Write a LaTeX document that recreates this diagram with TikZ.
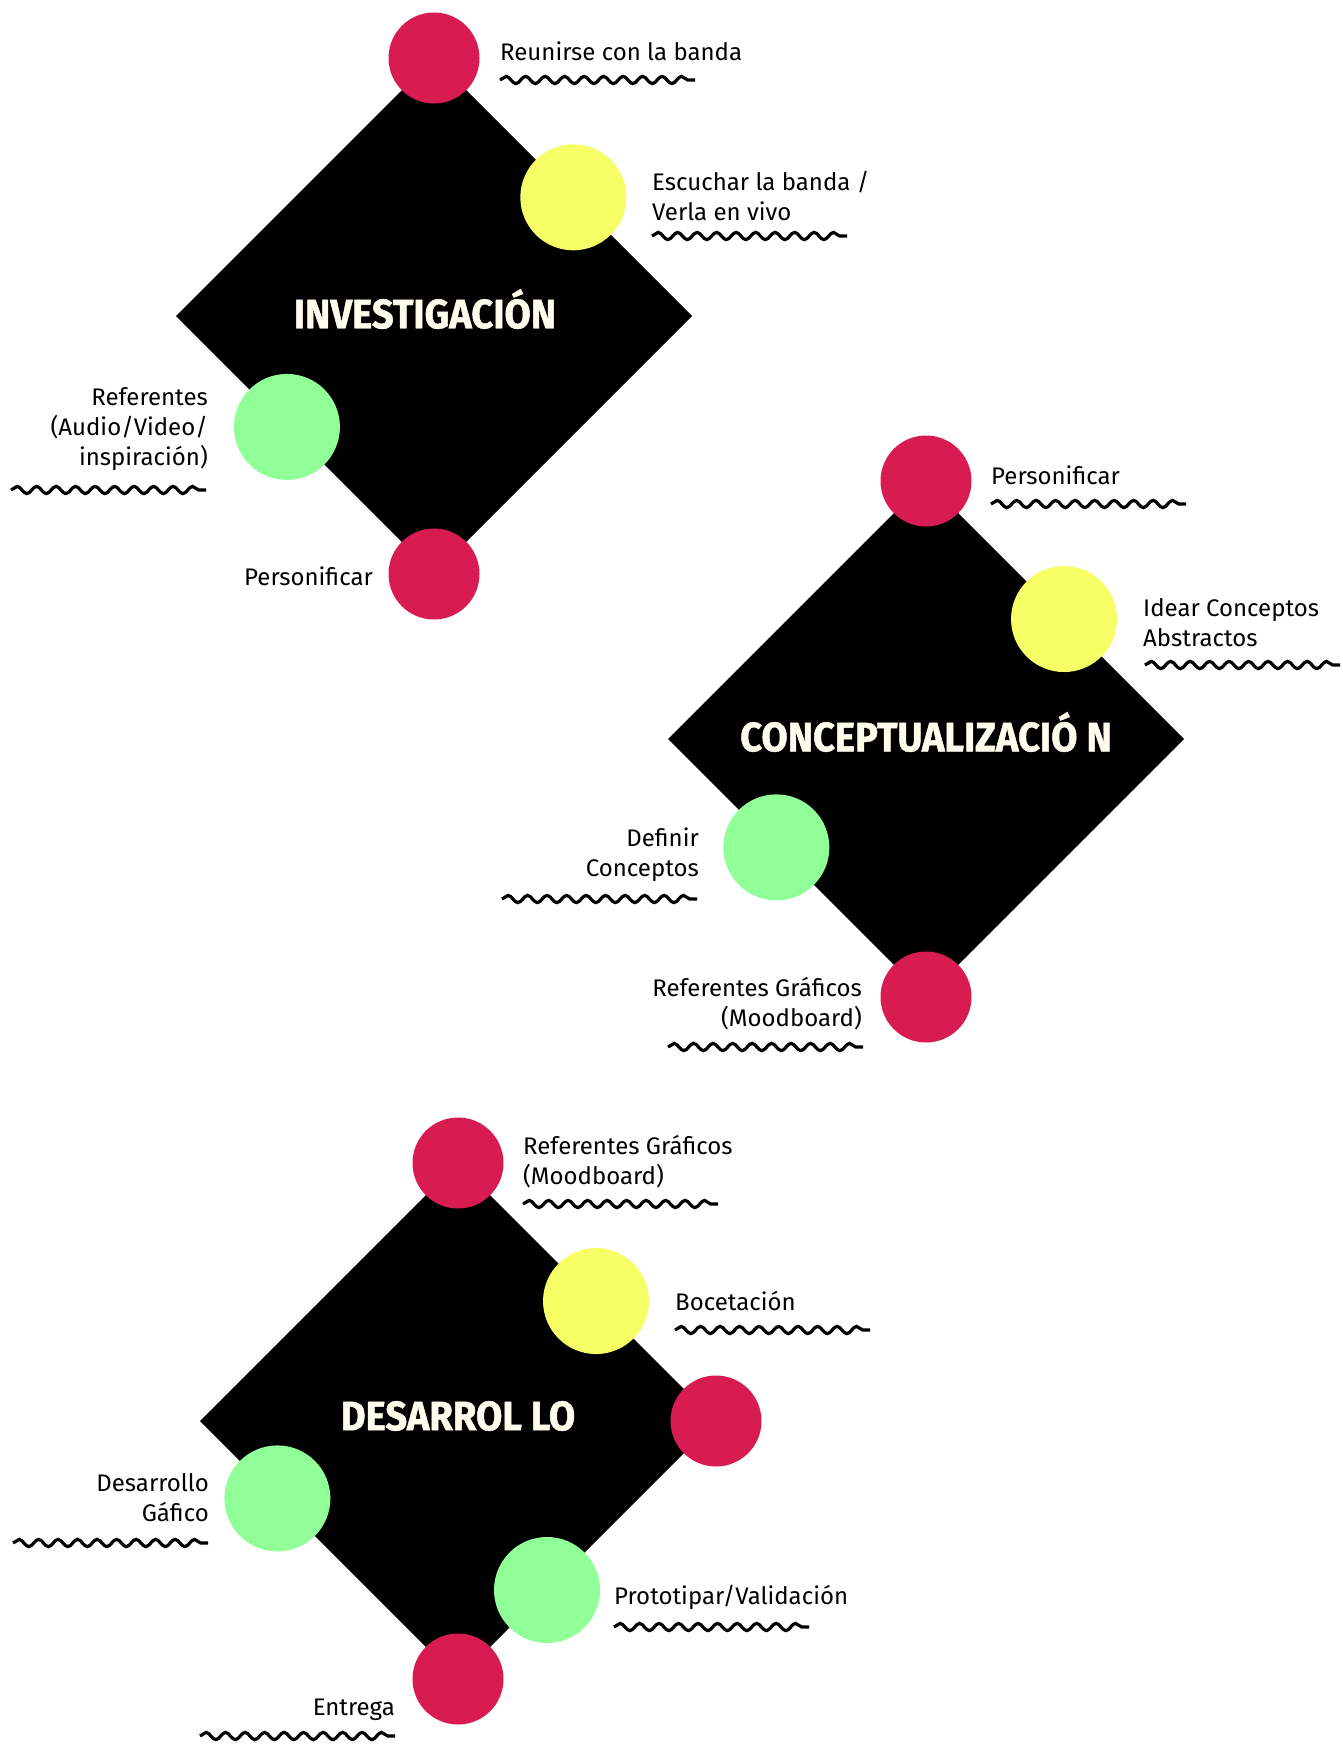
\documentclass[tikz,border=0pt]{standalone}
\usepackage{fontspec}
\setmainfont{Fira Sans}
\newfontfamily\titlefont[FakeStretch=0.93,FakeBold=1.2]{Fira Sans}
\usetikzlibrary{shapes.geometric,calc,decorations.pathmorphing}
\definecolor{rojo}{HTML}{D81B50}
\definecolor{amarillo}{HTML}{F6FF66}
\definecolor{verde}{HTML}{90FF98}
\definecolor{crema}{HTML}{FFFCEE}

\begin{document}
\begin{tikzpicture}[x=1pt,y=-1pt,
        fase/.style={diamond,fill=black,minimum width=516pt,minimum height=516pt,inner sep=0pt,outer sep=0pt},
        titulo/.style={text=crema,inner sep=0pt,font=\titlefont\bfseries\fontsize{41}{41}\selectfont},
        punto/.style={circle,inner sep=0pt,outer sep=0pt},
        puntorojo/.style={punto,fill=rojo,minimum size=91pt},
        puntoamarillo/.style={punto,fill=amarillo,minimum size=106pt},
        puntoverde/.style={punto,fill=verde,minimum size=106pt},
        etiqueta/.style={inner sep=0pt,font=\fontsize{24}{30}\selectfont},
        onda/.style={line width=3.2pt,decorate,decoration={snake,segment length=19.5pt,amplitude=3.6pt}}]
    \useasboundingbox (0,0) rectangle (1343,1745);

    \node[fase] (inv) at (434,316) {};
    \node[titulo] (invt) at (425,309) {INVESTIGACIÓN};
    \node[puntorojo] (inv1) at (inv.north) {};
    \node[puntoamarillo] (inv2) at ($(inv.north)!0.54!(inv.east)$) {};
    \node[puntoverde] (inv3) at ($(inv.west)!0.43!(inv.south)$) {};
    \node[puntorojo] (inv4) at (inv.south) {};
    \node[etiqueta,anchor=west] (inv1l) at (500,51) {Reunirse con la banda};
    \node[etiqueta,anchor=west,align=left] (inv2l) at (652,196) {Escuchar la banda /\\Verla en vivo};
    \node[etiqueta,anchor=east,align=right] (inv3l) at (208,429) {Referentes\\(Audio/Video/\\inspiración)};
    \node[etiqueta,anchor=east] (inv4l) at (373,576) {Personificar};

    \node[fase] (con) at (926,739) {};
    \node[titulo] (cont) at (926,732) {CONCEPTUALIZACIÓ N};
    \node[puntorojo] (con1) at (con.north) {};
    \node[puntoamarillo] (con2) at ($(con.north)!0.535!(con.east)$) {};
    \node[puntoverde] (con3) at ($(con.west)!0.42!(con.south)$) {};
    \node[puntorojo] (con4) at (con.south) {};
    \node[etiqueta,anchor=west] (con1l) at (991,475) {Personificar};
    \node[etiqueta,anchor=west,align=left] (con2l) at (1143,623) {Idear Conceptos\\Abstractos};
    \node[etiqueta,anchor=east,align=right] (con3l) at (699,855) {Definir\\Conceptos};
    \node[etiqueta,anchor=east,align=right] (con4l) at (862,1004) {Referentes Gráficos\\(Moodboard)};

    \node[fase] (des) at (458,1421) {};
    \node[titulo] (dest) at (458,1416) {DESARROL LO};
    \node[puntorojo] (des1) at (des.north) {};
    \node[puntoamarillo] (des2) at ($(des.north)!0.535!(des.east)$) {};
    \node[puntorojo] (des3) at (des.east) {};
    \node[puntoverde] (des4) at ($(des.west)!0.30!(des.south)$) {};
    \node[puntoverde] (des5) at ($(des.east)!0.655!(des.south)$) {};
    \node[puntorojo] (des6) at (des.south) {};
    \node[etiqueta,anchor=west,align=left] (des1l) at (523,1162) {Referentes Gráficos\\(Moodboard)};
    \node[etiqueta,anchor=west] (des2l) at (675,1301) {Bocetación};
    \node[etiqueta,anchor=east,align=right] (des4l) at (209,1498) {Desarrollo\\Gáfico};
    \node[etiqueta,anchor=west] (des5l) at (614,1597) {Prototipar/Validación};
    \node[etiqueta,anchor=east] (des6l) at (395,1710) {Entrega};

    \draw[onda] (500,80) -- (695,80);
    \draw[onda] (652,236) -- (847,236);
    \draw[onda] (11,490) -- (206,490);
    \draw[onda] (991,504) -- (1186,504);
    \draw[onda] (1145,665) -- (1340,665);
    \draw[onda] (502,899) -- (697,899);
    \draw[onda] (668,1047) -- (863,1047);
    \draw[onda] (523,1204) -- (718,1204);
    \draw[onda] (675,1330) -- (870,1330);
    \draw[onda] (13,1543) -- (208,1543);
    \draw[onda] (614,1627) -- (809,1627);
    \draw[onda] (200,1736) -- (395,1736);
\end{tikzpicture}
\end{document}
